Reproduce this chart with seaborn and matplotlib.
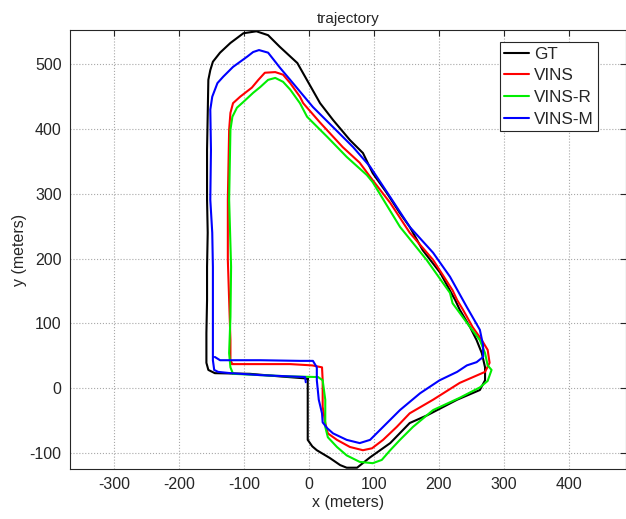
import matplotlib
matplotlib.use("Agg")
import matplotlib.pyplot as plt
import seaborn as sns
from pandas import DataFrame, concat

# trajectories in meters
gt_x = [-2, -2, -2, -2, 5, 12, 32, 48, 58, 74, 94, 125, 155, 182, 228, 263, 271, 271,
        266, 258, 248, 232, 225, 202, 175, 155, 140, 120, 98, 83, 63, 37, 17, -18, -45,
        -63, -81, -101, -121, -137, -148, -152, -155, -157, -157, -156, -157, -157, -158,
        -158, -155, -145, -91, -45, -6, -2]
gt_y = [14, -19, -50, -80, -90, -96, -108, -119, -123, -123, -107, -85, -54, -42, -18,
        -3, 12, 32, 54, 74, 94, 121, 136, 178, 213, 249, 270, 301, 332, 363, 383, 414,
        440, 502, 527, 545, 551, 548, 533, 518, 504, 491, 476, 368, 291, 240, 187, 136,
        85, 39, 28, 23, 22, 18, 15, 14]

vins_x = [-118, -75, -29, 5, 20, 21, 21, 25, 29, 43, 63, 83, 97, 114, 135, 155, 191,
          232, 271, 278, 275, 266, 252, 237, 228, 221, 191, 155, 125, 98, 78, 52, 17, -9,
          -14, -29, -40, -52, -68, -78, -88, -106, -117, -121, -123, -125, -125, -123,
          -121, -121, -118]
vins_y = [37, 37, 37, 35, 32, 12, -29, -54, -70, -80, -91, -96, -93, -80, -60, -39,
          -18, 8, 25, 39, 59, 74, 94, 121, 136, 151, 198, 240, 286, 321, 348, 372, 410,
          440, 450, 471, 484, 488, 487, 476, 464, 450, 440, 425, 399, 291, 198, 136, 74,
          43, 37]

vinsr_x = [-117, -75, -29, 14, 21, 25, 25, 29, 43, 58, 78, 98, 112, 125, 140, 160, 191,
           232, 263, 275, 281, 275, 271, 263, 248, 232, 221, 217, 181, 140, 98, 89, 58,
           28, -3, -14, -29, -40, -52, -63, -75, -86, -101, -111, -118, -121, -123, -120,
           -121, -123, -121, -117]
vinsr_y = [22, 20, 18, 17, 12, -18, -60, -76, -91, -104, -114, -116, -111, -96, -80,
           -60, -34, -15, 1, 11, 28, 35, 54, 74, 94, 116, 131, 147, 198, 249, 318, 329,
           357, 388, 419, 440, 461, 473, 479, 476, 465, 456, 442, 433, 419, 399, 291, 187,
           110, 54, 32, 22]

vinsm_x = [-5, -6, -29, -75, -121, -140, -146, -148, -148, -148, -149, -152, -151, -152,
           -149, -141, -132, -117, -95, -86, -77, -63, -52, -45, -29, 6, 37, 68, 94, 125,
           155, 191, 217, 243, 263, 268, 268, 258, 243, 228, 201, 171, 140, 109, 94, 78,
           58, 37, 28, 21, 20, 15, 12, 12, 6, -14, -75, -137, -145]
vinsm_y = [9, 17, 18, 20, 23, 25, 28, 43, 136, 187, 240, 291, 368, 430, 450, 471, 481,
           496, 512, 519, 522, 518, 504, 495, 476, 434, 403, 372, 342, 295, 249, 209, 172,
           125, 90, 66, 48, 40, 35, 25, 12, -8, -34, -65, -80, -85, -80, -70, -62, -53,
           -39, -18, 12, 32, 42, 42, 43, 43, 48]

names = ["GT", "VINS", "VINS-R", "VINS-M"]
colors = ["#000000", "#ff0000", "#00ee00", "#0000ff"]
xticks = [-300, -200, -100, 0, 100, 200, 300, 400]
yticks = [-100, 0, 100, 200, 300, 400, 500]

frames = []
for name, xs, ys in zip(names, [gt_x, vins_x, vinsr_x, vinsm_x],
                        [gt_y, vins_y, vinsr_y, vinsm_y]):
    frames.append(DataFrame({"x": xs, "y": ys, "traj": name}))
df = concat(frames, ignore_index=True)

sns.set_style("white")
plt.rcParams["font.family"] = ["Liberation Sans", "DejaVu Sans"]
plt.rcParams["axes.unicode_minus"] = False

fig = plt.figure(figsize=(6.26, 5.19), dpi=100)
ax = fig.add_axes([70 / 626, 50 / 519, 556 / 626, 439 / 519])

sns.lineplot(data=df, x="x", y="y", hue="traj", hue_order=names, palette=colors,
             sort=False, estimator=None, units="traj", linewidth=1.5, ax=ax)

ax.set_xlim(-368, 488)
ax.set_ylim(-125, 553)
ax.set_xticks(xticks)
ax.set_yticks(yticks)
ax.grid(True, color="#a8a8a8", linestyle=":", linewidth=0.8)
ax.tick_params(direction="in", top=True, right=True, length=4, width=0.8,
               colors="#262626", labelsize=11.5, pad=6)
for s in ax.spines.values():
    s.set_color("#262626")
    s.set_linewidth(0.8)

ax.set_title("trajectory", fontsize=11, pad=5)
ax.set_xlabel("x (meters)", fontsize=11.5, labelpad=2)
ax.set_ylabel("y (meters)", fontsize=11.5, labelpad=2)

leg = ax.legend(loc="upper right", bbox_to_anchor=(0.95, 0.972), fontsize=12.3,
                frameon=True, fancybox=False, edgecolor="#262626", framealpha=1,
                handlelength=1.45, handletextpad=0.3, borderpad=0.25, labelspacing=0.4,
                borderaxespad=0)
leg.get_frame().set_linewidth(0.8)

fig.savefig("out.png", dpi=100)
